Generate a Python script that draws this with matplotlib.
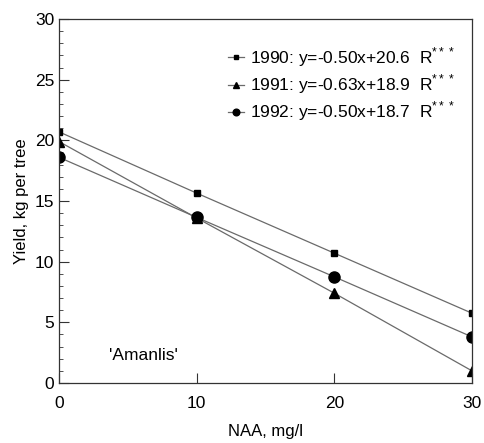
import matplotlib
matplotlib.use("Agg")
import matplotlib.pyplot as plt
from matplotlib.ticker import MultipleLocator

plt.rcParams['font.family'] = ['Liberation Sans', 'DejaVu Sans']
plt.rcParams['mathtext.fontset'] = 'custom'
plt.rcParams['mathtext.rm'] = 'Liberation Sans'

naa = [0, 10, 20, 30]
y1990 = [20.7, 15.65, 10.7, 5.75]
y1991 = [19.9, 13.6, 7.4, 1.0]
y1992 = [18.6, 13.65, 8.75, 3.8]
labels = ["1990: y=-0.50x+20.6  R$^{***}$",
          "1991: y=-0.63x+18.9  R$^{***}$",
          "1992: y=-0.50x+18.7  R$^{***}$"]

fig = plt.figure(figsize=(4.84, 4.43), dpi=100)
ax = fig.add_axes([59/484, 1-383/443, (472-59)/484, (383-19)/443])

lc = '#6a6a6a'
ax.plot(naa, y1990, color=lc, lw=0.9, marker='s', ms=4.5, mfc='black', mec='black', label=labels[0])
ax.plot(naa, y1991, color=lc, lw=0.9, marker='^', ms=6.5, mfc='black', mec='black', label=labels[1])
ax.plot(naa, y1992, color=lc, lw=0.9, marker='o', ms=8, mfc='black', mec='black', label=labels[2])

ax.set_xlim(0, 30)
ax.set_ylim(0, 30)
ax.xaxis.set_major_locator(MultipleLocator(10))
ax.yaxis.set_major_locator(MultipleLocator(5))
ax.yaxis.set_minor_locator(MultipleLocator(1))
ax.tick_params(axis='both', which='both', direction='in', labelsize=12.5, color='#333333')
ax.tick_params(axis='y', which='major', length=7)
ax.tick_params(axis='y', which='minor', length=3)
ax.tick_params(axis='x', which='major', length=7, pad=9)
for s in ax.spines.values():
    s.set_linewidth(0.9)
    s.set_color('#333333')

ax.set_xlabel("NAA, mg/l", fontsize=12, labelpad=10)
ax.set_ylabel("Yield, kg per tree", fontsize=12, labelpad=4)

ax.text(3.6, 2.3, "'Amanlis'", fontsize=12.5, va='center', ha='left')

leg = ax.legend(loc='upper right', bbox_to_anchor=(0.996, 0.97), frameon=False,
                fontsize=12.5, handlelength=0.9, handletextpad=0.35,
                labelspacing=0.2, markerscale=0.6)

fig.savefig("out.png", dpi=100)
